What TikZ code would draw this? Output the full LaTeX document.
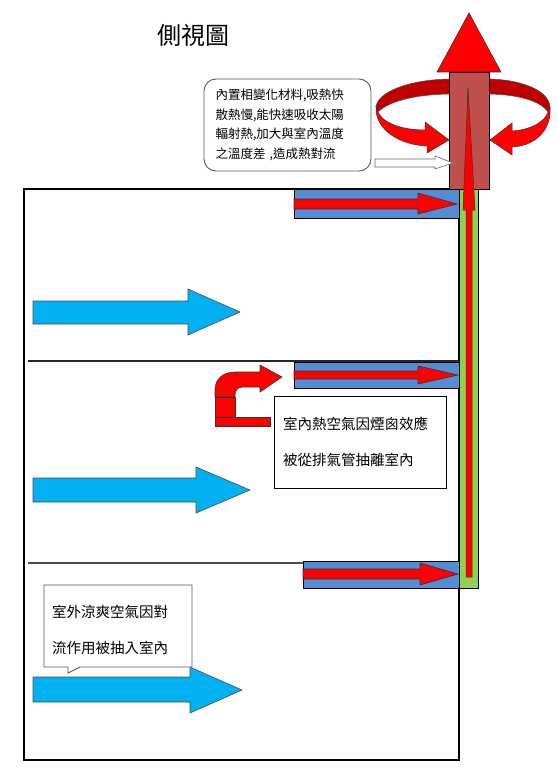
\documentclass[tikz,border=0pt]{standalone}
\usepackage{fontspec}
\usepackage{tikz}
\newfontfamily\cjk{Noto Sans CJK TC}

\definecolor{airblue}{HTML}{00B0F0}
\definecolor{ductblue}{RGB}{84,141,212}
\definecolor{pipegreen}{HTML}{92D050}
\definecolor{chimneyred}{HTML}{C0504D}
\definecolor{ringdark}{HTML}{C00000}
\definecolor{hotred}{HTML}{FF0000}

\tikzset{
  airarrow/.style = {fill=airblue, draw=black!70, line width=0.6pt},
  hotarrow/.style = {fill=hotred, draw=black!80, line width=0.6pt},
  duct/.style = {fill=ductblue, draw=black, line width=0.9pt},
  wall/.style = {draw=black, line width=1.1pt},
  notebox/.style = {draw=black!65, fill=white, line width=0.9pt},
  cjktext/.style = {inner sep=0pt, align=left}
}

\begin{document}
\begin{tikzpicture}[x=1pt, y=-1pt, line join=miter]
\useasboundingbox (0,0) rectangle (557,768);

\node[cjktext, font=\cjk\fontsize{24}{28}\selectfont] (title) at (193,35) {側視圖};

% room
\draw[wall] (24,189) rectangle (459,760);
\draw[wall, draw=black!85] (28,361) -- (459,361);
\draw[wall, draw=black!70] (28,563) -- (303,563);

% outdoor air
\draw[airarrow] (33,301) -- (188,301) -- (188,289) -- (240,312) -- (188,335) -- (188,324) -- (33,324) -- cycle;
\draw[airarrow] (33,478) -- (196,478) -- (196,467) -- (250,490) -- (196,513) -- (196,502) -- (33,502) -- cycle;
\draw[airarrow] (33,677) -- (190,677) -- (190,667) -- (242,690) -- (190,713) -- (190,702) -- (33,702) -- cycle;

% ducts
\draw[duct] (294,189) rectangle (459,218);
\draw[hotarrow] (294,199) -- (418,199) -- (418,193) -- (457,204) -- (418,214) -- (418,209) -- (294,209) -- cycle;
\draw[duct] (294,362) rectangle (459,388);
\draw[hotarrow] (294,371) -- (418,371) -- (418,366) -- (458,375) -- (418,384) -- (418,379) -- (294,379) -- cycle;
\draw[duct] (303,561) rectangle (459,588);
\draw[hotarrow] (303,569) -- (420,569) -- (420,563) -- (458,574) -- (420,585) -- (420,579) -- (303,579) -- cycle;

% exhaust pipe
\draw[fill=pipegreen, draw=black, line width=0.9pt] (459,189) rectangle (478,588);

% ring round the chimney
\draw[fill=ringdark, draw=black!70, line width=0.5pt] (452,79) .. controls (415,79) and (378,90) .. (376,107)
    -- (378,112) .. controls (390,100) and (420,94) .. (452,94) -- cycle;
\draw[fill=ringdark, draw=black!70, line width=0.5pt] (486,79) .. controls (520,79) and (549,90) .. (550,107)
    -- (548,112) .. controls (540,100) and (515,94) .. (486,94) -- cycle;
\draw[hotarrow, line width=0.5pt] (376,107) .. controls (375,130) and (400,145) .. (427,146) -- (427,153) -- (449,140)
    -- (425,122) -- (425,130) .. controls (400,130) and (382,122) .. (378,112) -- cycle;
\draw[hotarrow, line width=0.5pt] (550,107) .. controls (552,130) and (535,146) .. (512,147) -- (512,155) -- (490,140)
    -- (512,123) -- (512,131) .. controls (530,130) and (545,122) .. (548,112) -- cycle;

% chimney
\draw[fill=chimneyred, draw=black, line width=0.8pt] (449,72) rectangle (489,189);
\draw[hotarrow] (437,72) -- (469,13) -- (501,72) -- cycle;
\draw[hotarrow, line width=0.5pt] (466,577) -- (466,210) -- (463,210) -- (468,88) -- (475,210) -- (472,210) -- (472,577) -- cycle;

% phase change note
\node[notebox, rounded corners=12pt, minimum width=167pt, minimum height=92pt, text width=144pt, inner sep=0pt,
      align=left, font=\cjk\fontsize{12.5}{19.5}\selectfont] (pcmnote) at (287.5,125)
  {內置相變化材料,吸熱快\\散熱慢,能快速吸收太陽\\輻射熱,加大與室內溫度\\之溫度差 ,造成熱對流};
\draw[fill=white, draw=black!60, line width=0.6pt] (375,159) -- (435,159) -- (435,156) -- (453,163) -- (435,169) -- (435,167) -- (375,167) -- cycle;

% bent arrow
\draw[hotarrow] (215,397) -- (215,390) .. controls (215,380) and (222,372) .. (235,372) -- (260,372) -- (260,365)
    -- (282,377) -- (260,392) -- (260,387) -- (243,387) .. controls (238,387) and (235,390) .. (235,395) -- (235,397) -- cycle;
\draw[hotarrow] (215,397) rectangle (235,417);
\draw[hotarrow] (215,417) rectangle (270,426);

% hot air note
\node[draw=black, fill=white, line width=0.9pt, minimum width=172pt, minimum height=92pt, text width=154pt,
      inner sep=0pt, align=left, font=\cjk\fontsize{14.5}{36}\selectfont] (hotnote) at (360,442)
  {室內熱空氣因煙囪效應\\被從排氣管抽離室內};

% cool air note
\draw[notebox] (44,585) -- (192,585) -- (192,667) -- (80,667) -- (68,673) -- (68,667) -- (44,667) -- cycle;
\node[cjktext, anchor=west, font=\cjk\fontsize{14.5}{36}\selectfont] (coolnote) at (52,630)
  {室外涼爽空氣因對\\流作用被抽入室內};
\end{tikzpicture}
\end{document}
